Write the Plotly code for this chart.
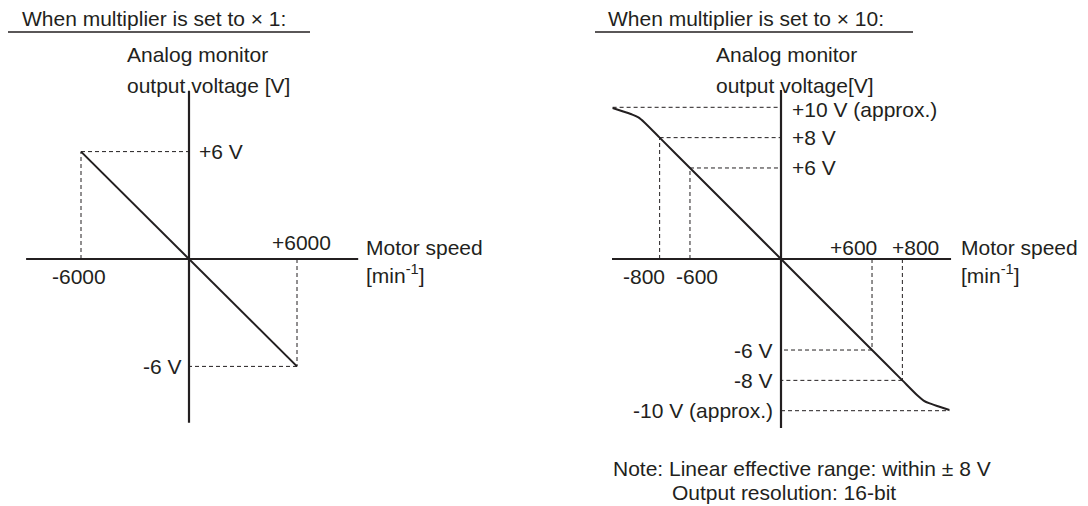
import plotly.graph_objects as go

# ---------------- data ----------------
# x1 multiplier panel
speed_x1 = [-6000, 0, 6000]          # motor speed [min-1]
volt_x1 = [6, 0, -6]                 # analog monitor voltage [V]
tick_speed_x1 = [-6000, 6000]
tick_volt_x1 = [6, -6]
tick_speed_lbl_x1 = ["-6000", "+6000"]
tick_volt_lbl_x1 = ["+6 V", "-6 V"]

# x10 multiplier panel (saturating curve)
speed_x10 = [-1110, -1040, -980, -940, -900, -800, -600, 0, 600, 800, 900, 940, 980, 1040, 1110]
volt_x10 = [9.95, 9.72, 9.52, 9.33, 9.0, 8, 6, 0, -6, -8, -9.0, -9.33, -9.52, -9.72, -9.95]
tick_speed_x10 = [-800, -600, 600, 800]
tick_volt_x10 = [8, 6, -6, -8]
tick_speed_lbl_x10 = ["-800", "-600", "+600", "+800"]
tick_volt_lbl_x10 = ["+8 V", "+6 V", "-6 V", "-8 V"]
sat_volt_x10 = [10, -10]
sat_lbl_x10 = ["+10 V (approx.)", "-10 V (approx.)"]

titles = ["When multiplier is set to \u00d7 1:", "When multiplier is set to \u00d7 10:"]
yaxis_titles = [["Analog monitor", "output voltage [V]"], ["Analog monitor", "output voltage[V]"]]
xaxis_title = ["Motor speed", "[min<sup>-1</sup>]"]
notes = ["Note: Linear effective range: within \u00b1 8 V", "Output resolution: 16-bit"]

# ---------------- layout geometry ----------------
PAGE_W, PAGE_H = 1088, 506
OFF = 8                      # page body margin; figure starts at (8, 8)
FW, FH = PAGE_W - OFF, PAGE_H - OFF
INK = "#231f20"
FONT = dict(family="Liberation Sans, Arial, sans-serif", size=21, color=INK)

# page-pixel origin / scale of each schematic panel
P1 = dict(ox=189, oy=259, kx=0.018, ky=17.9, d0=OFF, d1=544)
P2 = dict(ox=781, oy=259, kx=0.1517, ky=15.17, d0=544, d1=PAGE_W)

def xr(p):
    return [(p["d0"] - p["ox"]) / p["kx"], (p["d1"] - p["ox"]) / p["kx"]]

def yr(p):
    return [(p["oy"] - PAGE_H) / p["ky"], (p["oy"] - OFF) / p["ky"]]

def px(x):
    return (x - OFF) / FW

def py(y):
    return 1 - (y - OFF) / FH

# axis line extents in data units
AX1 = dict(x=(-9050, 9400), y=(-9.15, 9.4))
AX2 = dict(x=(-1114, 1121), y=(-11.14, 11.14))

fig = go.Figure()

fig.add_trace(go.Scatter(x=speed_x1, y=volt_x1, mode="lines",
                         line=dict(color=INK, width=2), xaxis="x", yaxis="y",
                         hoverinfo="skip", showlegend=False))
fig.add_trace(go.Scatter(x=speed_x10, y=volt_x10, mode="lines",
                         line=dict(color=INK, width=2, shape="spline", smoothing=0.6),
                         xaxis="x2", yaxis="y2", hoverinfo="skip", showlegend=False))

shapes = []
annotations = []
DASH = "4px,3px"

def axis_lines(xref, yref, ax):
    shapes.append(dict(type="line", xref=xref, yref=yref, x0=ax["x"][0], x1=ax["x"][1],
                       y0=0, y1=0, line=dict(color=INK, width=2.2)))
    shapes.append(dict(type="line", xref=xref, yref=yref, x0=0, x1=0,
                       y0=ax["y"][0], y1=ax["y"][1], line=dict(color=INK, width=2.2)))

def guide(xref, yref, s, v):
    shapes.append(dict(type="line", xref=xref, yref=yref, x0=s, x1=s, y0=0, y1=v,
                       line=dict(color=INK, width=1, dash=DASH)))
    shapes.append(dict(type="line", xref=xref, yref=yref, x0=s, x1=0, y0=v, y1=v,
                       line=dict(color=INK, width=1, dash=DASH)))

axis_lines("x", "y", AX1)
axis_lines("x2", "y2", AX2)
for s, v in zip(tick_speed_x1, tick_volt_x1):
    guide("x", "y", s, v)
for s, v in zip(tick_speed_x10, tick_volt_x10):
    guide("x2", "y2", s, v)
# saturation level guides (+10 / -10 V)
shapes.append(dict(type="line", xref="x2", yref="y2", x0=speed_x10[0], x1=0,
                   y0=sat_volt_x10[0], y1=sat_volt_x10[0], line=dict(color=INK, width=1, dash=DASH)))
shapes.append(dict(type="line", xref="x2", yref="y2", x0=0, x1=speed_x10[-1],
                   y0=sat_volt_x10[1], y1=sat_volt_x10[1], line=dict(color=INK, width=1, dash=DASH)))

def ann(text, x, y, xref="paper", yref="paper", xanchor="left", yanchor="middle", xshift=0, yshift=0):
    annotations.append(dict(text=text, x=x, y=y, xref=xref, yref=yref, xanchor=xanchor,
                            yanchor=yanchor, xshift=xshift, yshift=yshift, showarrow=False,
                            font=FONT, align="left", borderpad=0))

# titles + underlines
for t, tx, (u0, u1) in zip(titles, [21, 607], [(6, 310), (595, 913)]):
    ann(t, px(tx), py(18))
    shapes.append(dict(type="line", xref="paper", yref="paper", x0=px(u0), x1=px(u1),
                       y0=py(32), y1=py(32), line=dict(color=INK, width=1.5)))

# y-axis titles
for lines, tx in zip(yaxis_titles, [126, 715]):
    ann(lines[0], px(tx), py(55))
    ann(lines[1], px(tx), py(85))

# x-axis titles
for tx in [365, 960]:
    ann(xaxis_title[0], px(tx), py(247))
    ann(xaxis_title[1], px(tx), py(274))

# x1 tick labels
ann(tick_speed_lbl_x1[0], tick_speed_x1[0], 0, "x", "y", "center", "middle", -2, -17)
ann(tick_speed_lbl_x1[1], tick_speed_x1[1], 0, "x", "y", "right", "middle", 35, 17)
ann(tick_volt_lbl_x1[0], 0, tick_volt_x1[0], "x", "y", "left", "middle", 9, 0)
ann(tick_volt_lbl_x1[1], 0, tick_volt_x1[1], "x", "y", "right", "middle", -6, 0)

# x10 tick labels
shift_speed = [(-38, -17, "left"), (-15, -17, "left"), (6, 12, "right"), (38, 12, "right")]
for lbl, s, (dx, dy, anc) in zip(tick_speed_lbl_x10, tick_speed_x10, shift_speed):
    ann(lbl, s, 0, "x2", "y2", anc, "middle", dx, dy)
for lbl, v in zip(tick_volt_lbl_x10, tick_volt_x10):
    if v > 0:
        ann(lbl, 0, v, "x2", "y2", "left", "middle", 10, 0)
    else:
        ann(lbl, 0, v, "x2", "y2", "right", "middle", -7, 0)
ann(sat_lbl_x10[0], 0, sat_volt_x10[0], "x2", "y2", "left", "middle", 10, -2)
ann(sat_lbl_x10[1], 0, sat_volt_x10[1], "x2", "y2", "right", "middle", -7, 0)

# notes
ann(notes[0], px(612), py(468))
ann(notes[1], px(671), py(492))

hidden = dict(visible=False, fixedrange=True, showgrid=False, zeroline=False)
fig.update_layout(
    width=FW, height=FH, autosize=False,
    margin=dict(l=0, r=0, t=0, b=0, pad=0),
    paper_bgcolor="white", plot_bgcolor="white",
    showlegend=False,
    xaxis=dict(hidden, domain=[0, (P1["d1"] - OFF) / FW], range=xr(P1)),
    yaxis=dict(hidden, domain=[0, 1], range=yr(P1)),
    xaxis2=dict(hidden, domain=[(P2["d0"] - OFF) / FW, 1], range=xr(P2), anchor="y2"),
    yaxis2=dict(hidden, domain=[0, 1], range=yr(P2), anchor="x2"),
    shapes=shapes,
    annotations=annotations,
)

fig.write_html("out.html", config=dict(displayModeBar=False))
